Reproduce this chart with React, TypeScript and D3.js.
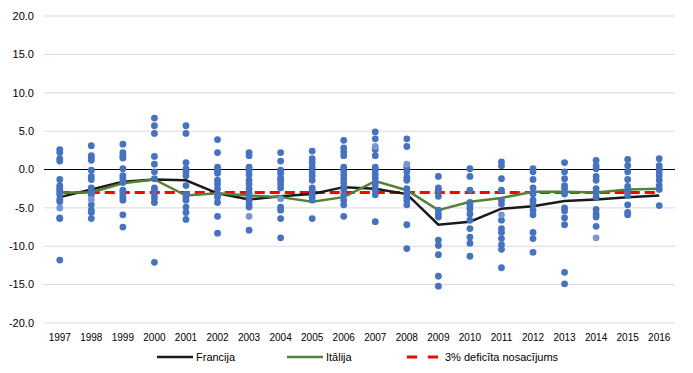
import React from 'react';
import * as d3 from 'd3';

const years = [
  '1997', '1998', '1999', '2000', '2001', '2002', '2003', '2004', '2005', '2006',
  '2007', '2008', '2009', '2010', '2011', '2012', '2013', '2014', '2015', '2016',
];

const yTicks = [20, 15, 10, 5, 0, -5, -10, -15, -20];

const francija = [
  -3.6, -2.6, -1.6, -1.3, -1.4, -3.1, -3.9, -3.5, -3.2, -2.3,
  -2.5, -3.2, -7.2, -6.8, -5.1, -4.8, -4.1, -3.9, -3.6, -3.4,
];

const italija = [
  -3.0, -3.0, -1.8, -1.3, -3.4, -3.1, -3.4, -3.6, -4.2, -3.6,
  -1.5, -2.7, -5.3, -4.2, -3.7, -2.9, -2.9, -3.0, -2.6, -2.5,
];

const deficitLimit = -3;

// other member states, one list per year
const countryPoints: number[][] = [
  [2.6, 2.2, 1.4, 1.1, -1.3, -2.1, -2.4, -2.7, -3.0, -3.3, -3.9, -4.2, -6.3, -6.4, -11.8],
  [3.1, 1.8, 1.5, 1.2, -0.1, -0.9, -1.3, -2.4, -2.7, -3.0, -3.3, -4.6, -5.3, -5.6, -6.4],
  [3.3, 2.2, 1.8, 1.5, 0.1, -0.8, -1.2, -1.7, -2.7, -3.2, -3.6, -4.0, -5.9, -7.5],
  [6.7, 5.7, 4.7, 1.7, 0.7, -0.3, -1.2, -2.4, -2.7, -3.2, -3.7, -4.3, -12.1],
  [5.7, 4.7, 0.9, 0.1, -0.3, -0.8, -2.1, -3.2, -3.6, -4.0, -4.9, -5.6, -6.5],
  [3.9, 2.2, 0.3, -0.1, -0.5, -1.4, -1.9, -2.5, -3.2, -3.6, -4.3, -6.1, -8.3],
  [2.2, 1.8, 0.3, -0.1, -0.7, -1.4, -1.9, -2.5, -3.0, -3.6, -4.0, -4.5, -4.9, -7.9],
  [2.2, 1.1, -0.1, -0.5, -1.1, -1.4, -1.9, -2.4, -4.9, -5.3, -6.4, -8.9],
  [2.4, 1.4, 0.9, 0.3, -0.3, -0.8, -1.4, -2.4, -2.7, -3.2, -3.6, -4.0, -6.4],
  [3.8, 2.8, 2.3, 1.8, 0.3, -0.2, -0.7, -1.2, -1.7, -2.2, -2.6, -3.3, -4.0, -4.6, -6.1],
  [4.9, 4.0, 2.6, 1.8, 0.3, -0.1, -0.6, -1.1, -1.7, -2.1, -2.7, -3.3, -6.8],
  [4.0, 3.0, 0.3, -0.3, -1.0, -1.4, -2.5, -3.1, -3.6, -4.0, -4.6, -7.2, -10.3],
  [-0.9, -2.4, -2.7, -3.5, -5.3, -5.8, -6.2, -9.2, -9.9, -11.1, -13.9, -15.2],
  [0.1, -0.9, -2.7, -4.3, -4.7, -5.1, -5.8, -6.6, -7.7, -8.8, -9.6, -11.3],
  [1.0, 0.5, -1.2, -2.7, -4.0, -4.5, -6.6, -7.7, -8.2, -9.0, -9.8, -10.4, -12.8],
  [0.1, -0.3, -1.3, -2.4, -3.2, -4.0, -4.5, -5.3, -5.9, -8.2, -9.0, -10.8],
  [0.9, -0.3, -1.2, -2.1, -2.5, -3.2, -5.0, -5.4, -6.3, -7.2, -13.4, -14.9],
  [1.2, 0.5, 0.1, -0.9, -1.4, -2.5, -3.0, -3.6, -5.2, -5.8, -6.2, -7.4],
  [1.3, 0.5, -0.3, -1.3, -2.2, -2.7, -3.4, -4.6, -5.6, -5.9],
  [1.4, 0.5, 0.1, -0.3, -0.8, -1.4, -2.1, -2.6, -4.7],
];

// lighter markers
const lightYears = ['1997', '1998', '2003', '2004', '2007', '2008', '2011', '2014'];
const lightValues = [-5.0, -3.9, -6.1, -3.8, 3.0, 0.7, -5.9, -8.9];

const W = 693;
const H = 373;
const font = '"Liberation Sans", Arial, sans-serif';

const x = d3.scaleBand<string>().domain(years).range([44, 675]).padding(0);
const y = d3.scaleLinear().domain([-20, 20]).range([323, 16]);
const cx = (yr: string) => (x(yr) || 0) + x.bandwidth() / 2;

const lineGen = d3
  .line<number>()
  .x((_, i) => cx(years[i]))
  .y((v) => y(v));

const App: React.FC = () => {
  const dots: { yr: string; v: number; light: boolean }[] = [];
  countryPoints.forEach((vals, i) => vals.forEach((v) => dots.push({ yr: years[i], v, light: false })));
  lightYears.forEach((yr, i) => dots.push({ yr, v: lightValues[i], light: true }));

  return (
    <svg
      width={W}
      height={H}
      style={{ position: 'absolute', left: 0, top: 0, background: '#fff' }}
      fontFamily={font}
    >
      {yTicks.map((t) => (
        <g key={t}>
          <line
            x1={44}
            x2={675}
            y1={y(t)}
            y2={y(t)}
            stroke={t === 0 ? '#000' : '#d9d9d9'}
            strokeWidth={1}
          />
          <text x={34} y={y(t)} dy="0.35em" textAnchor="end" fontSize={11} fill="#000">
            {t.toFixed(1)}
          </text>
        </g>
      ))}

      {years.map((yr) => (
        <text key={yr} x={cx(yr)} y={341} textAnchor="middle" fontSize={10} fill="#000">
          {yr}
        </text>
      ))}

      <path
        d={lineGen(years.map(() => deficitLimit)) || ''}
        fill="none"
        stroke="#ff0000"
        strokeWidth={3}
        strokeDasharray="10,5"
      />
      <path d={lineGen(francija) || ''} fill="none" stroke="#1a1a1a" strokeWidth={2.5} />
      <path d={lineGen(italija) || ''} fill="none" stroke="#548235" strokeWidth={2.5} />

      {dots.map((d, i) => (
        <circle
          key={i}
          cx={cx(d.yr)}
          cy={y(d.v)}
          r={3.4}
          fill={d.light ? '#7597d8' : '#4472c4'}
        />
      ))}

      <g fontSize={11} fill="#000">
        <line x1={157} x2={193} y1={357} y2={357} stroke="#1a1a1a" strokeWidth={2.5} />
        <text x={196} y={357} dy="0.35em">Francija</text>
        <line x1={287} x2={323} y1={357} y2={357} stroke="#548235" strokeWidth={2.5} />
        <text x={326} y={357} dy="0.35em">Itālija</text>
        <line
          x1={407}
          x2={440}
          y1={357}
          y2={357}
          stroke="#ff0000"
          strokeWidth={3}
          strokeDasharray="10,11"
        />
        <text x={445} y={357} dy="0.35em">3% deficīta nosacījums</text>
      </g>
    </svg>
  );
};

export default App;
